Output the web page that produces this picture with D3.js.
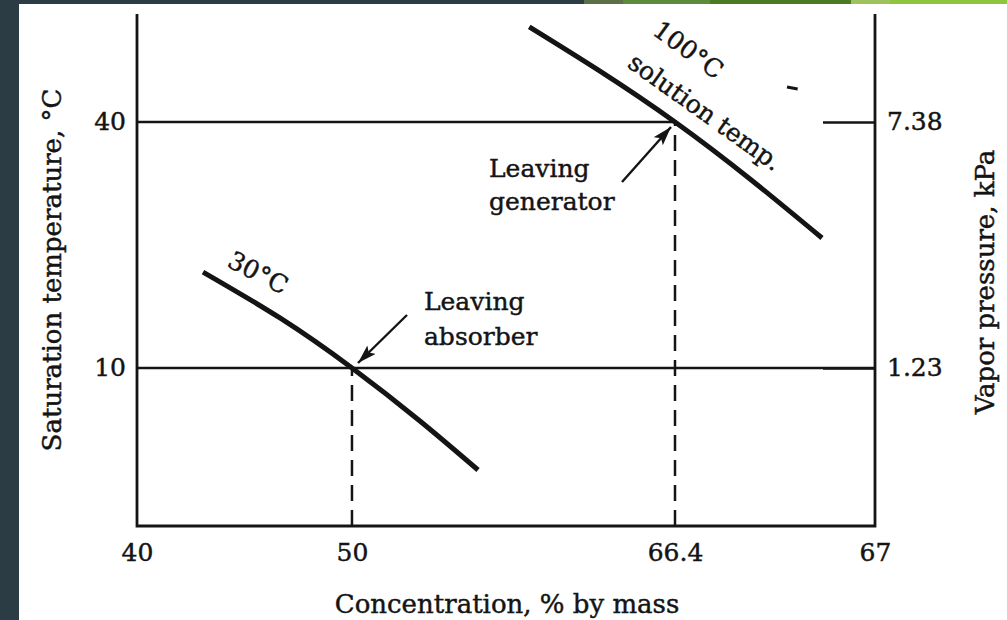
<!DOCTYPE html>
<html><head><meta charset="utf-8">
<script src="https://cdn.jsdelivr.net/npm/d3@7"></script>
<style>
html,body{margin:0;padding:0;background:#fff;}
svg{display:block;}
text{font-family:"DejaVu Serif",serif;fill:#141414;stroke:#141414;stroke-width:0.45px;}
</style></head>
<body>
<svg id="chart" width="1007" height="620"></svg>
<script>
// ---------------- data ----------------
const xTicks = [40, 50, 66.4, 67];                 // concentration, % by mass (schematic, broken scale)
const xTickLabels = ["40", "50", "66.4", "67"];
const tempTicks = [10, 40];                        // saturation temperature, °C
const pressureTicks = [1.23, 7.38];                // vapor pressure, kPa (same positions as tempTicks)
const tempDomain = [-9.27, 53.17];
// solution-temperature curves: [concentration, saturation temperature]
const curve30  = [[43.07, 21.7], [46.65, 16.1], [50, 10], [53.45, 3.54], [56.4, -2.44]];
const curve100 = [[59.0, 51.6], [62.59, 46.2], [66.4, 40], [66.625, 33.05], [66.841, 25.85]];
// states
const stateNames = ["absorber", "generator"];
const stateX = [50, 66.4];
const stateT = [10, 40];
const stateText = [["Leaving", "absorber"], ["Leaving", "generator"]];
// curve labels
const curveLabelText = ["30°C", "100°C", "solution temp."];
const curveLabelX = [45.63, 66.44, 66.49];
const curveLabelT = [21.6, 48.8, 41.2];
// stray mark in the original figure
const stray = [[66.736, 44.27], [66.768, 44.02]];

// ---------------- layout / style ----------------
const W = 1007, H = 620;
const P = {l: 137, r: 875, t: 14, b: 526};
const xBreakFrac = [0, 0.2913, 0.7290, 1];
const ink = "#141414";
const labelAngle = [27, 36, 35.5];
const arrowOffsets = [ // [tipDx, tipDy, tailDx, tailDy]
  [6, -5, 55, -53],
  [-4, 5, -53, 60]
];
const textOffsets = [ // [dx, baseline dy of first line, line gap]
  [72, -58, 35],
  [-186, 55, 33]
];

const svg = d3.select("#chart");

// background decorations
svg.append("rect").attr("width", W).attr("height", H).attr("fill", "#fff");
svg.append("rect").attr("x", 0).attr("y", 0).attr("width", 19).attr("height", H).attr("fill", "#2c3c44");
svg.append("rect").attr("x", 0).attr("y", 0).attr("width", 584).attr("height", 4).attr("fill", "#2c3c44");
const greens = [[584, 623, "#5a7048"], [623, 710, "#5e8a3c"], [710, 851, "#4a7b23"], [851, 890, "#9dc25e"], [890, 1007, "#8ec43f"]];
svg.selectAll("rect.g").data(greens).join("rect")
  .attr("x", d => d[0]).attr("y", 0).attr("width", d => d[1] - d[0]).attr("height", 4).attr("fill", d => d[2]);

// scales
const x = d3.scaleLinear().domain(xTicks).range(xBreakFrac.map(f => P.l + f * (P.r - P.l)));
const y = d3.scaleLinear().domain(tempDomain).range([P.b, P.t]);
const p = d3.scaleLinear().domain(pressureTicks).range(tempTicks.map(y));

// reference lines
const g = svg.append("g");
g.append("line").attr("x1", x(40)).attr("x2", x(67)).attr("y1", y(10)).attr("y2", y(10))
  .attr("stroke", ink).attr("stroke-width", 2.4);
g.append("line").attr("x1", x(40)).attr("x2", x(stateX[1])).attr("y1", y(40)).attr("y2", y(40))
  .attr("stroke", ink).attr("stroke-width", 2.4);
g.selectAll("line.dash").data(stateX).join("line")
  .attr("x1", d => x(d)).attr("x2", d => x(d))
  .attr("y1", y(tempDomain[0])).attr("y2", (d, i) => y(stateT[i]))
  .attr("stroke", ink).attr("stroke-width", 2.5).attr("stroke-dasharray", "16,9");

// axes
const ax = svg.append("g").attr("transform", `translate(0,${P.b})`)
  .call(d3.axisBottom(x).tickValues(xTicks).tickFormat((d, i) => xTickLabels[i]).tickSize(0).tickPadding(17));
const ay = svg.append("g").attr("transform", `translate(${P.l},0)`)
  .call(d3.axisLeft(y).tickValues(tempTicks).tickFormat(d3.format("d")).tickSize(0).tickPadding(11));
const ap = svg.append("g").attr("transform", `translate(${P.r},0)`)
  .call(d3.axisRight(p).tickValues(pressureTicks).tickFormat(d3.format(".2f")).tickSizeInner(-52).tickSizeOuter(0).tickPadding(12));
[ax, ay, ap].forEach(a => {
  a.select(".domain").remove();
  a.selectAll("text").attr("font-family", "DejaVu Serif").attr("font-size", 25).attr("fill", ink);
  a.selectAll(".tick line").attr("stroke", ink).attr("stroke-width", 2.4);
});

// frame (left, bottom, right)
svg.append("path")
  .attr("d", `M${P.l},${P.t}V${P.b}H${P.r}V${P.t}`)
  .attr("fill", "none").attr("stroke", ink).attr("stroke-width", 2.8);

// curves
const line = d3.line().x(d => x(d[0])).y(d => y(d[1])).curve(d3.curveNatural);
svg.selectAll("path.curve").data([curve30, curve100]).join("path")
  .attr("class", "curve").attr("d", line)
  .attr("fill", "none").attr("stroke", ink).attr("stroke-width", 5);
svg.append("path").attr("d", d3.line().x(d => x(d[0])).y(d => y(d[1]))(stray))
  .attr("stroke", ink).attr("stroke-width", 3);

// arrow marker
svg.append("defs").append("marker").attr("id", "ah")
  .attr("markerUnits", "userSpaceOnUse").attr("markerWidth", 22).attr("markerHeight", 14)
  .attr("refX", 19).attr("refY", 6).attr("orient", "auto")
  .append("path").attr("d", "M0,0L19,6L0,12L4,6Z").attr("fill", ink);

stateNames.forEach((n, i) => {
  const px = x(stateX[i]), py = y(stateT[i]);
  const o = arrowOffsets[i];
  svg.append("line").attr("x1", px + o[2]).attr("y1", py + o[3]).attr("x2", px + o[0]).attr("y2", py + o[1])
    .attr("stroke", ink).attr("stroke-width", 2.4).attr("marker-end", "url(#ah)");
  const t = textOffsets[i];
  stateText[i].forEach((s, k) => {
    svg.append("text").attr("x", px + t[0]).attr("y", py + t[1] + k * t[2])
      .attr("font-size", 25).text(s);
  });
});

// curve labels
curveLabelText.forEach((s, i) => {
  const cx = x(curveLabelX[i]), cy = y(curveLabelT[i]);
  svg.append("text").attr("transform", `translate(${cx},${cy}) rotate(${labelAngle[i]})`)
    .attr("text-anchor", "middle").attr("dominant-baseline", "central")
    .attr("font-size", 25).text(s);
});

// axis titles
svg.append("text").attr("x", (P.l + P.r) / 2 + 1).attr("y", 613).attr("text-anchor", "middle")
  .attr("font-size", 26).text("Concentration, % by mass");
svg.append("text").attr("transform", `translate(52,${(P.t + P.b) / 2})rotate(-90)`)
  .attr("text-anchor", "middle").attr("dominant-baseline", "central")
  .attr("font-size", 26).text("Saturation temperature, °C");
svg.append("text").attr("transform", `translate(985,282)rotate(-90)`)
  .attr("text-anchor", "middle").attr("dominant-baseline", "central")
  .attr("font-size", 26).text("Vapor pressure, kPa");
</script>
</body></html>
